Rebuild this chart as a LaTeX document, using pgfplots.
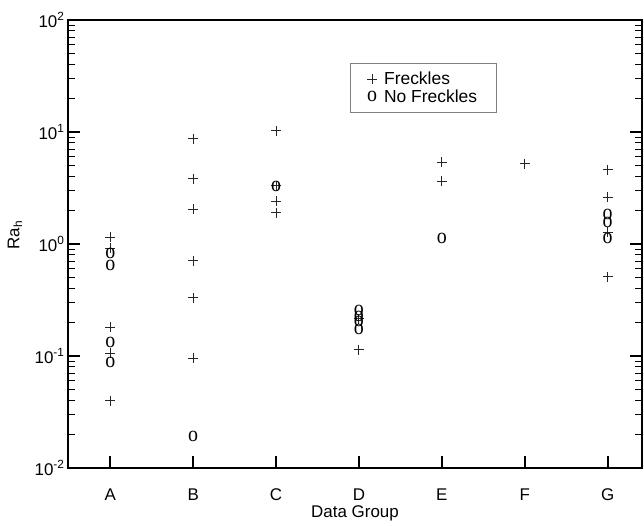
\documentclass[border=0pt]{standalone}
\usepackage{fontspec}
\setmainfont{Liberation Sans}
\newfontfamily\serifo{Liberation Serif}
\usepackage{pgfplots}
\pgfplotsset{compat=1.18}
\begin{document}
\begin{tikzpicture}
\begin{axis}[
  scale only axis, width=574bp, height=448bp,
  ymode=log, ymin=1e-2, ymax=1e2, xmin=0.49, xmax=7.415,
  xtick={1,2,3,4,5,6,7}, xticklabels={A,B,C,D,E,F,G},
  ytick={0.01,0.1,1,10,100},
  yticklabels={10\textsuperscript{-2},10\textsuperscript{-1},10\textsuperscript{0},10\textsuperscript{1},10\textsuperscript{2}},
  xtick pos=bottom, ytick pos=both,
  axis line style={line width=2.2bp},
  major tick length=12bp, minor tick length=7bp,
  every major tick/.append style={line width=2bp, black},
  every minor tick/.append style={line width=0.8bp, black},
  tick label style={font=\fontsize{17}{19}\selectfont},
  xticklabel style={yshift=-17bp},
  label style={font=\fontsize{17}{19}\selectfont},
  xlabel={Data Group}, ylabel={Ra\textsubscript{h}},
  xlabel style={at={(axis description cs:0.5,0)}, anchor=center, yshift=-45bp},
  ylabel style={at={(axis description cs:0,0.52)}, anchor=center, yshift=53bp},
  legend style={at={(0.491,0.904)}, anchor=north west, draw=gray, line width=0.6bp,
    font=\fontsize{17.5}{19}\selectfont, inner xsep=17bp, inner ysep=7bp, row sep=-1bp, column sep=5bp},
  legend cell align=left,
]
\addplot[only marks, mark=+, mark size=5bp, color=black!85, mark options={line width=0.9bp}] coordinates {
 (1,1.15) (1,0.92) (1,0.18) (1,0.106) (1,0.040)
 (2,8.7) (2,3.84) (2,2.04) (2,0.71) (2,0.33) (2,0.096)
 (3,10.3) (3,3.3) (3,2.42) (3,1.91)
 (4,0.215) (4,0.114)
 (5,5.4) (5,3.65)
 (6,5.2)
 (7,4.6) (7,2.62) (7,1.28) (7,0.51)
};
\addlegendentry{Freckles}
\addplot[only marks, mark=text, color=black,
  text mark={\serifo\fontsize{20}{20}\selectfont\scalebox{1}[1.1]{o}}] coordinates {
 (1,0.82) (1,0.64) (1,0.133) (1,0.087)
 (2,0.019)
 (3,3.25)
 (4,0.257) (4,0.224) (4,0.203) (4,0.171)
 (5,1.11)
 (7,1.82) (7,1.55) (7,1.12)
};
\addlegendentry{No Freckles}
\end{axis}
\pgfresetboundingbox
\path[use as bounding box] ([shift={(-68bp,-57bp)}]current axis.south west) rectangle ([shift={(2bp,20bp)}]current axis.north east);
\end{tikzpicture}
\end{document}
